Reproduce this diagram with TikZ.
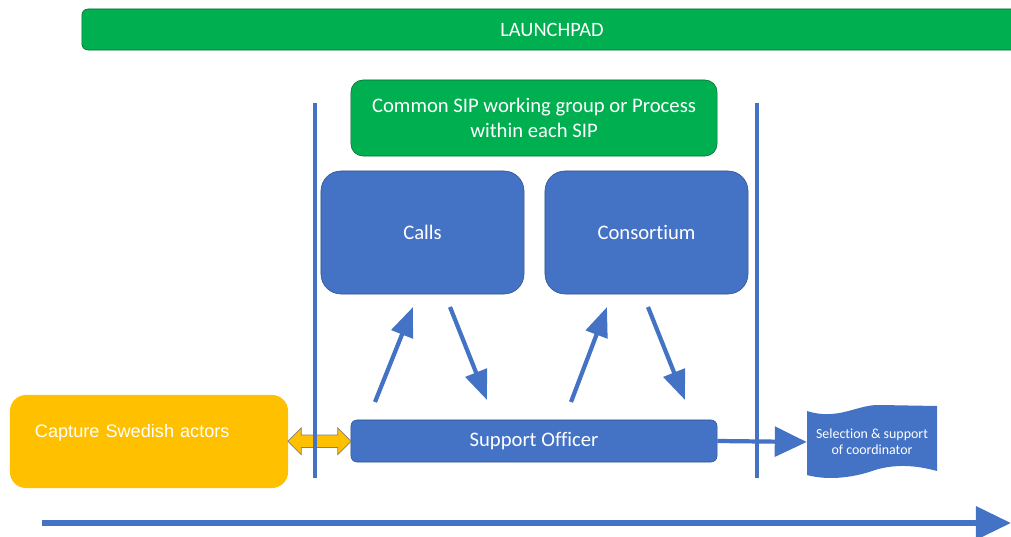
\documentclass[tikz,border=0pt]{standalone}
\usepackage{fontspec}
\setmainfont{Carlito}[Ligatures=NoCommon]
\newfontfamily\arialfont{Liberation Sans}
\usetikzlibrary{arrows.meta,shapes.arrows,calc}
\definecolor{sipblue}{HTML}{4472C4}
\definecolor{sipgreen}{HTML}{00B050}
\definecolor{sipyellow}{HTML}{FFC000}
\definecolor{edgeblue}{HTML}{2F528F}

\tikzset{
  bluebox/.style={fill=sipblue, draw=edgeblue, line width=0.4pt, text=white, inner sep=0pt,
    font=\fontsize{14.7}{17.7}\selectfont},
  greenbox/.style={fill=sipgreen, draw=sipgreen!60!black, line width=0.4pt, text=white, inner sep=0pt,
    font=\fontsize{14.7}{17.7}\selectfont, align=center},
  flow/.style={sipblue, line width=3pt, -{Triangle[length=21pt,width=16pt]}},
  border/.style={sipblue, line width=3pt},
}

\begin{document}
\begin{tikzpicture}[x=0.025cm, y=-0.025cm]
\useasboundingbox (0,0) rectangle (1011,537);

\node[greenbox, rounded corners=0.15cm, minimum width=23.5cm, minimum height=1.025cm,
  font=\fontsize{14.5}{16}\selectfont] (launchpad) at (552,29.5) {LAUNCHPAD};

\node[greenbox, rounded corners=0.3cm, minimum width=9.15cm, minimum height=1.9cm] (sip) at (534,118)
  {Common SIP working group or Process\\within each SIP};

\node[bluebox, rounded corners=0.5cm, minimum width=5.075cm, minimum height=3.075cm] (calls) at (422.5,232.5) {Calls};
\node[bluebox, rounded corners=0.5cm, minimum width=5.075cm, minimum height=3.075cm] (consortium) at (646.5,232.5) {Consortium};

\node[bluebox, rounded corners=0.15cm, minimum width=9.15cm, minimum height=1.05cm] (support) at (534,441) {Support Officer};

\node[fill=sipyellow, rounded corners=0.4cm, minimum width=6.95cm, minimum height=2.325cm,
  inner xsep=0.625cm, inner ysep=0pt, text width=5.7cm, align=left, text height=0.32cm, text depth=0.5cm,
  text=white, font=\arialfont\fontsize{12.9}{15}\selectfont] (capture) at (149,441.5) {Capture Swedish actors};

% selection document
\fill[sipblue] (807,411) .. controls (838,421) and (858,404) .. (880,405) -- (937,406)
  -- (937,471) .. controls (915,465) and (895,464) .. (875,470)
  .. controls (850,479) and (825,480) .. (807,475) -- cycle;
\node[minimum width=3.25cm, minimum height=1.55cm, inner sep=0pt, text=white, align=center,
  font=\fontsize{9.9}{11.5}\selectfont] (select) at (872,442) {Selection \& support\\of coordinator};

% arrows calls / consortium
\coordinate (up1a) at (375,402);
\coordinate (up1b) at (413,307);
\coordinate (dn1a) at (450,307);
\coordinate (dn1b) at (487,400);
\coordinate (up2a) at (571,402);
\coordinate (up2b) at (607,307);
\coordinate (dn2a) at (648,307);
\coordinate (dn2b) at (685,400);
\draw[flow] (up1a) -- (up1b);
\draw[flow] (dn1a) -- (dn1b);
\draw[flow] (up2a) -- (up2b);
\draw[flow] (dn2a) -- (dn2b);

\draw[sipblue, line width=3pt, -{Triangle[length=22.7pt,width=21pt]}] (support.east) -- (select.west);

\node[double arrow, fill=sipyellow, draw=gray, line width=0.5pt, minimum height=1.575cm,
  inner xsep=0pt, inner ysep=0.145cm, double arrow head extend=0.18cm]
  (link) at ($(capture.east)!0.5!(support.west)$) {};

% SIP borders
\draw[border] (315,103) -- (315,478);
\draw[border] (757,103) -- (757,478);

% time axis
\coordinate (tstart) at (42,523);
\coordinate (tend) at (1011,523);
\draw[sipblue, line width=4.2pt, -{Triangle[length=25pt,width=23pt]}] (tstart) -- (tend);
\end{tikzpicture}
\end{document}
